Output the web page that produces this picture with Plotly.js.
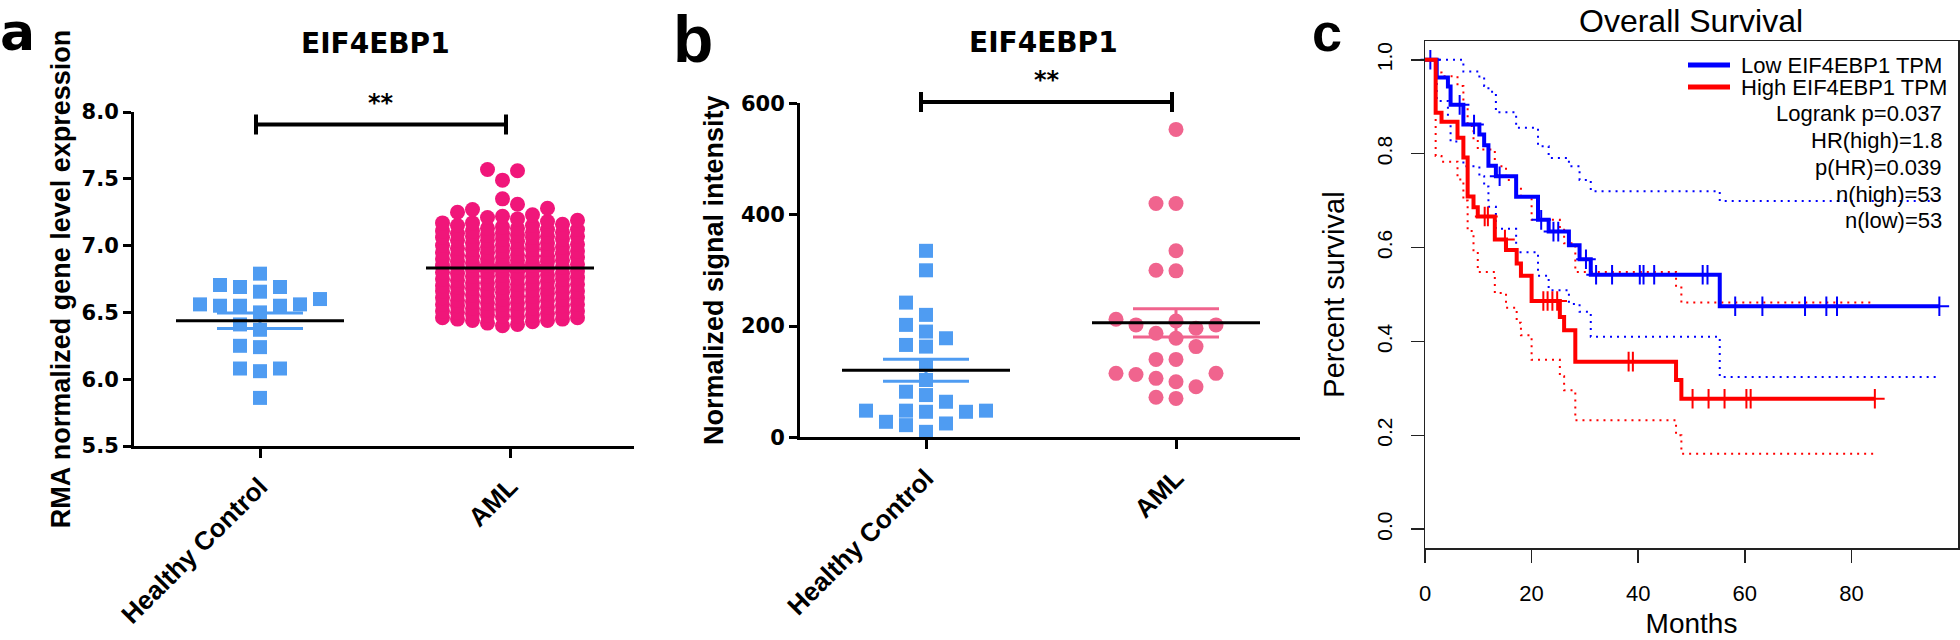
<!DOCTYPE html>
<html><head><meta charset="utf-8">
<script src="https://cdn.plot.ly/plotly-3.0.1.min.js"></script>
<style>html,body{margin:0;padding:0;background:#fff;}#chart{width:1960px;height:640px;}</style>
</head><body><div id="chart"></div>
<script>
// ---------------- DATA ----------------
const groups = ['Healthy Control', 'AML'];

// Panel a: RMA normalized gene level expression
const healthyExpr = [5.86, 6.06, 6.08, 6.08, 6.24, 6.25, 6.37, 6.41, 6.50, 6.55, 6.56, 6.55, 6.56, 6.55,
  6.60, 6.655, 6.69, 6.69, 6.705, 6.79];
const amlExpr = [6.40, 6.41, 6.42,
  6.43, 6.44, 6.44, 6.45, 6.45, 6.46, 6.46, 6.47, 6.47,
  6.48, 6.48, 6.49, 6.49, 6.50, 6.50, 6.51, 6.51, 6.52, 6.52, 6.52,
  6.53, 6.53, 6.54, 6.55, 6.55, 6.56, 6.56, 6.56, 6.57, 6.57,
  6.58, 6.58, 6.59, 6.59, 6.60, 6.60, 6.61, 6.61, 6.62, 6.62, 6.62,
  6.63, 6.64, 6.64, 6.65, 6.65, 6.66, 6.66, 6.67, 6.67, 6.67,
  6.68, 6.68, 6.69, 6.69, 6.70, 6.70, 6.71, 6.71, 6.72, 6.72, 6.72,
  6.73, 6.73, 6.74, 6.75, 6.75, 6.76, 6.76, 6.77, 6.77, 6.77,
  6.78, 6.78, 6.79, 6.79, 6.80, 6.80, 6.81, 6.81, 6.82, 6.82, 6.82,
  6.83, 6.84, 6.84, 6.85, 6.85, 6.86, 6.86, 6.87, 6.87, 6.87,
  6.88, 6.88, 6.89, 6.89, 6.90, 6.90, 6.91, 6.91, 6.92, 6.92, 6.92,
  6.93, 6.93, 6.94, 6.95, 6.95, 6.96, 6.96, 6.97, 6.97, 6.97,
  6.98, 6.98, 6.99, 6.99, 7.00, 7.00, 7.01, 7.01, 7.02, 7.02,
  7.03, 7.04, 7.04, 7.05, 7.05, 7.06, 7.06, 7.07, 7.07, 7.07,
  7.08, 7.08, 7.09, 7.09, 7.10, 7.10, 7.11, 7.11, 7.12, 7.12,
  7.13, 7.13, 7.14, 7.15, 7.15, 7.16, 7.17, 7.17,
  7.18, 7.19, 7.20, 7.21, 7.22, 7.23,
  7.25, 7.27, 7.28, 7.31,
  7.35, 7.49, 7.56, 7.57];

// Panel b: normalized signal intensity
const healthySignal = [335, 300, 242, 220, 202, 190, 166, 163, 178, 130, 103, 82, 64, 46, 46, 25, 48, 10, 48, 22, 48, 28, 76];
const amlSignal = [553, 420, 420, 335, 299, 300, 212, 202, 202, 209, 196, 187, 178, 163, 140, 140, 106, 115, 113, 115, 100, 91, 70, 72];

// Panel c: Kaplan-Meier overall survival (months)
const lowTimes  = [0, 2.2, 4.3, 4.8, 7.2, 10.2, 11.1, 11.9, 13.3, 17.1, 21.2, 23.2, 27.0, 29.0, 31.1, 55.3, 96.5];
const lowSurv   = [1, 0.962, 0.943, 0.904, 0.862, 0.841, 0.818, 0.774, 0.752, 0.708, 0.659, 0.634, 0.605, 0.575, 0.542, 0.475, 0.475];
const lowUpper  = [1, 1, 1, 1, 0.975, 0.962, 0.944, 0.932, 0.888, 0.855, 0.816, 0.791, 0.773, 0.744, 0.720, 0.699, 0.699];
const lowLower  = [1, 0.912, 0.868, 0.826, 0.773, 0.752, 0.730, 0.687, 0.640, 0.590, 0.540, 0.509, 0.480, 0.463, 0.410, 0.324, 0.324];
const lowCensor = [1.0, 6.5, 9.2, 14.0, 21.8, 24.1, 25.0, 30.2, 32.1, 35.1, 40.3, 41.0, 43.0, 52.1, 53.0, 58.2, 63.3, 71.3, 75.3, 77.3, 96.5];

const highTimes  = [0, 2.0, 3.1, 6.1, 7.2, 8.0, 9.1, 9.9, 13.1, 15.2, 17.2, 18.0, 20.0, 25.3, 26.1, 28.2, 47.1, 48.1, 84.4];
const highSurv   = [1, 0.887, 0.868, 0.834, 0.792, 0.709, 0.686, 0.666, 0.617, 0.595, 0.566, 0.540, 0.486, 0.452, 0.424, 0.357, 0.318, 0.278, 0.278];
const highUpper  = [1, 0.973, 0.965, 0.944, 0.901, 0.859, 0.830, 0.809, 0.773, 0.744, 0.730, 0.709, 0.659, 0.644, 0.609, 0.548, 0.515, 0.483, 0.483];
const highLower  = [1, 0.795, 0.783, 0.745, 0.700, 0.635, 0.594, 0.548, 0.503, 0.472, 0.440, 0.413, 0.361, 0.326, 0.296, 0.232, 0.200, 0.161, 0.161];
const highCensor = [11.2, 11.8, 15.0, 22.2, 23.0, 23.9, 24.8, 38.2, 39.0, 50.2, 53.2, 56.2, 60.3, 61.1, 84.4];

const legendNames = ['Low EIF4EBP1 TPM', 'High EIF4EBP1 TPM'];
const statLines = ['Logrank p=0.037', 'HR(high)=1.8', 'p(HR)=0.039', 'n(high)=53', 'n(low)=53'];
const panelTitles = ['EIF4EBP1', 'EIF4EBP1', 'Overall Survival'];
const yTitles = ['RMA normalized gene level expression', 'Normalized signal intensity', 'Percent survival'];

// ---------------- STYLE / LAYOUT ----------------
const W = 1960, H = 640;
const PX = x => x / W, PY = y => 1 - y / H;
const BLUE = '#4f9cf2', PINK_A = '#f0167a', PINK_B = '#f0648e';
const KM_BLUE = '#0000ff', KM_RED = '#ff0000';
const WIDE = 'DejaVu Sans, Verdana, sans-serif';
const ARIAL = 'Liberation Sans, Arial, Helvetica, sans-serif';

// pixel boxes of the three plot areas
const boxA = {l: 134, r: 634, t: 112, b: 446, xr: [-0.504, 1.496], yr: [5.5, 8.0]};
const boxB = {l: 800, r: 1300, t: 103.2, b: 437.4, xr: [-0.504, 1.496], yr: [0, 600]};
const boxC = {l: 1425, r: 1958, t: 41, b: 548, xr: [0, 100], yr: [-0.04, 1.04]};
const scale = b => ({px: (b.r - b.l) / (b.xr[1] - b.xr[0]), py: (b.b - b.t) / (b.yr[1] - b.yr[0])});
const sA = scale(boxA), sB = scale(boxB);

function swarmX(values, center, s, spacing, dmin, nCols) {
  const offs = [];
  if (nCols % 2) { offs.push(0); for (let k = 1; k <= (nCols - 1) / 2; k++) offs.push(-k * spacing, k * spacing); }
  else { for (let k = 0; k < nCols / 2; k++) offs.push(-(k + 0.5) * spacing, (k + 0.5) * spacing); }
  const last = offs.map(() => -Infinity);
  const order = values.map((v, i) => i).sort((a, b) => values[a] - values[b]);
  const xs = new Array(values.length);
  order.forEach(i => {
    const y = values[i] * s.py;
    let pick = -1;
    for (let c = 0; c < offs.length; c++) { if (y - last[c] >= dmin) { pick = c; break; } }
    if (pick < 0) { pick = 0; for (let c = 1; c < offs.length; c++) if (last[c] < last[pick]) pick = c; }
    last[pick] = y;
    xs[i] = center + offs[pick] / s.px;
  });
  return xs;
}
function stats(v) {
  const n = v.length, m = v.reduce((a, b) => a + b, 0) / n;
  const sd = Math.sqrt(v.reduce((a, b) => a + (b - m) * (b - m), 0) / (n - 1));
  return {m, sem: sd / Math.sqrt(n)};
}
function meanSemTraces(v, c, color, xa, ya) {
  const {m, sem} = stats(v);
  const hw = 0.336, sw = 0.172;
  return [
    {x: [c - sw, c + sw, null, c - sw, c + sw, null, c, c], y: [m + sem, m + sem, null, m - sem, m - sem, null, m - sem, m + sem],
     mode: 'lines', line: {color: color, width: 3}, xaxis: xa, yaxis: ya, hoverinfo: 'skip', cliponaxis: false},
    {x: [c - hw, c + hw], y: [m, m], mode: 'lines', line: {color: '#000', width: 3}, xaxis: xa, yaxis: ya, hoverinfo: 'skip'}
  ];
}
function pts(v, xs, sym, size, color, xa, ya) {
  return {x: xs, y: v, mode: 'markers', marker: {symbol: sym, size: size, color: color, line: {width: 0}},
    xaxis: xa, yaxis: ya, cliponaxis: false, hoverinfo: 'y'};
}
function survAt(times, surv, t) {
  let s = surv[0];
  for (let i = 0; i < times.length; i++) { if (times[i] <= t) s = surv[i]; }
  return s;
}

const traces = [];
// panel a
traces.push(pts(healthyExpr, swarmX(healthyExpr, 0, sA, 20, 14, 7), 'square', 14, BLUE, 'x', 'y'));
traces.push(pts(amlExpr, swarmX(amlExpr, 1, sA, 15, 13, 10), 'circle', 15, PINK_A, 'x', 'y'));
traces.push(...meanSemTraces(healthyExpr, 0, BLUE, 'x', 'y'));
traces.push(...meanSemTraces(amlExpr, 1, PINK_A, 'x', 'y'));
// panel b
traces.push(pts(healthySignal, swarmX(healthySignal, 0, sB, 20, 14, 9), 'square', 14, BLUE, 'x2', 'y2'));
traces.push(pts(amlSignal, swarmX(amlSignal, 1, sB, 20, 15, 7), 'circle', 15, PINK_B, 'x2', 'y2'));
traces.push(...meanSemTraces(healthySignal, 0, BLUE, 'x2', 'y2'));
traces.push(...meanSemTraces(amlSignal, 1, PINK_B, 'x2', 'y2'));
// panel c
const dotted = c => ({color: c, width: 2, dash: '2px,5px', shape: 'hv'});
traces.push({x: lowTimes, y: lowUpper, mode: 'lines', line: dotted(KM_BLUE), xaxis: 'x3', yaxis: 'y3', hoverinfo: 'skip'});
traces.push({x: lowTimes, y: lowLower, mode: 'lines', line: dotted(KM_BLUE), xaxis: 'x3', yaxis: 'y3', hoverinfo: 'skip'});
traces.push({x: highTimes, y: highUpper, mode: 'lines', line: dotted(KM_RED), xaxis: 'x3', yaxis: 'y3', hoverinfo: 'skip'});
traces.push({x: highTimes, y: highLower, mode: 'lines', line: dotted(KM_RED), xaxis: 'x3', yaxis: 'y3', hoverinfo: 'skip'});
traces.push({x: lowTimes, y: lowSurv, mode: 'lines', name: legendNames[0], line: {color: KM_BLUE, width: 4, shape: 'hv'}, xaxis: 'x3', yaxis: 'y3'});
traces.push({x: lowCensor, y: lowCensor.map(t => survAt(lowTimes, lowSurv, t)), mode: 'markers',
  marker: {symbol: 'cross-thin', size: 14, line: {width: 2, color: KM_BLUE}}, xaxis: 'x3', yaxis: 'y3', cliponaxis: false});
traces.push({x: highTimes, y: highSurv, mode: 'lines', name: legendNames[1], line: {color: KM_RED, width: 4, shape: 'hv'}, xaxis: 'x3', yaxis: 'y3'});
traces.push({x: highCensor, y: highCensor.map(t => survAt(highTimes, highSurv, t)), mode: 'markers',
  marker: {symbol: 'cross-thin', size: 14, line: {width: 2, color: KM_RED}}, xaxis: 'x3', yaxis: 'y3', cliponaxis: false});

const boldTick = {family: WIDE, size: 21, color: '#000', weight: 700};
const catTick = {family: ARIAL, size: 26, color: '#000', weight: 700};
const dom = b => ({x: [PX(b.l), PX(b.r)], y: [PY(b.b), PY(b.t)]});
const dA = dom(boxA), dB = dom(boxB), dC = dom(boxC);
const catAxis = (d, anchor) => ({domain: d.x, range: boxA.xr, anchor: anchor, tickvals: [0, 1], ticktext: groups, tickangle: -45,
  ticks: 'outside', ticklen: 9, tickwidth: 3, tickcolor: '#000', showline: true, linewidth: 3, linecolor: '#000',
  showgrid: false, zeroline: false, tickfont: catTick, ticklabelstandoff: 3, fixedrange: true});

const layout = {
  width: W, height: H, margin: {l: 0, r: 0, t: 0, b: 0}, paper_bgcolor: '#fff', plot_bgcolor: 'rgba(0,0,0,0)',
  showlegend: false,
  xaxis: catAxis(dA, 'y'),
  yaxis: {domain: dA.y, range: boxA.yr, anchor: 'x', tick0: 5.5, dtick: 0.5, tickformat: '.1f', ticks: 'outside', ticklen: 8,
    tickwidth: 3, tickcolor: '#000', showline: true, linewidth: 3, linecolor: '#000', showgrid: false, zeroline: false,
    tickfont: boldTick, title: {text: yTitles[0], font: {family: ARIAL, size: 27, weight: 700, color: '#000'}, standoff: 4}},
  xaxis2: catAxis(dB, 'y2'),
  yaxis2: {domain: dB.y, range: boxB.yr, anchor: 'x2', tick0: 0, dtick: 200, ticks: 'outside', ticklen: 8,
    tickwidth: 3, tickcolor: '#000', showline: true, linewidth: 3, linecolor: '#000', showgrid: false, zeroline: false,
    tickfont: boldTick, title: {text: yTitles[1], font: {family: ARIAL, size: 27, weight: 700, color: '#000'}, standoff: 10}},
  xaxis3: {domain: dC.x, range: boxC.xr, anchor: 'y3', tickvals: [0, 20, 40, 60, 80], ticks: 'outside', ticklen: 13,
    tickwidth: 1.5, tickcolor: '#222', showline: true, mirror: true, linewidth: 1.5, linecolor: '#222', showgrid: false,
    zeroline: false, ticklabelstandoff: 12, tickfont: {family: ARIAL, size: 22, color: '#000'},
    title: {text: 'Months', font: {family: ARIAL, size: 28, color: '#000'}, standoff: 8}},
  yaxis3: {domain: dC.y, range: boxC.yr, anchor: 'x3', tickvals: [0, 0.2, 0.4, 0.6, 0.8, 1.0], tickformat: '.1f', tickangle: -90,
    ticks: 'outside', ticklen: 13, tickwidth: 1.5, tickcolor: '#222', showline: true, mirror: true, linewidth: 1.5,
    linecolor: '#222', showgrid: false, zeroline: false, ticklabelstandoff: 10, tickfont: {family: ARIAL, size: 21, color: '#000'},
    title: {text: yTitles[2], font: {family: ARIAL, size: 29, color: '#000'}, standoff: 20}},
  shapes: [],
  annotations: []
};

// significance bars (decorations)
function sigBar(x0, x1, y) {
  const L = {color: '#000', width: 4};
  layout.shapes.push({type: 'line', xref: 'paper', yref: 'paper', x0: PX(x0), x1: PX(x1), y0: PY(y), y1: PY(y), line: L});
  [x0, x1].forEach(x => layout.shapes.push({type: 'line', xref: 'paper', yref: 'paper', x0: PX(x), x1: PX(x), y0: PY(y - 10), y1: PY(y + 10), line: L}));
}
sigBar(256, 506, 124.5);
sigBar(921, 1172, 102);

// legend lines
layout.shapes.push({type: 'line', xref: 'paper', yref: 'paper', x0: PX(1688), x1: PX(1730), y0: PY(65), y1: PY(65), line: {color: KM_BLUE, width: 5}});
layout.shapes.push({type: 'line', xref: 'paper', yref: 'paper', x0: PX(1688), x1: PX(1730), y0: PY(87), y1: PY(87), line: {color: KM_RED, width: 5}});

const ann = (text, x, y, font, xa = 'center', ya = 'middle') => layout.annotations.push({text: text, x: PX(x), y: PY(y),
  xref: 'paper', yref: 'paper', xanchor: xa, yanchor: ya, showarrow: false, font: font});
ann('a', -2, 0, {family: WIDE, size: 52, weight: 700, color: '#000'}, 'left', 'top');
ann('b', 671, 0, {family: ARIAL, size: 66, weight: 700, color: '#000'}, 'left', 'top');
ann('c', 1310, 0, {family: ARIAL, size: 54, weight: 700, color: '#000'}, 'left', 'top');
ann(panelTitles[0], 375, 44, {family: WIDE, size: 28, weight: 700, color: '#000'});
ann(panelTitles[1], 1043, 42, {family: WIDE, size: 28, weight: 700, color: '#000'});
ann('**', 381, 103, {family: WIDE, size: 24, weight: 700, color: '#000'});
ann('**', 1047, 80, {family: WIDE, size: 24, weight: 700, color: '#000'});
ann(panelTitles[2], 1691, 21, {family: ARIAL, size: 32, color: '#000'});
ann(legendNames[0], 1739, 65, {family: ARIAL, size: 22, color: '#000'}, 'left');
ann(legendNames[1], 1739, 87, {family: ARIAL, size: 22, color: '#000'}, 'left');
statLines.forEach((t, i) => ann(t, 1944, 114 + i * 26.7, {family: ARIAL, size: 22, color: '#000'}, 'right'));

Plotly.newPlot('chart', traces, layout, {staticPlot: true, displayModeBar: false});
</script></body></html>
